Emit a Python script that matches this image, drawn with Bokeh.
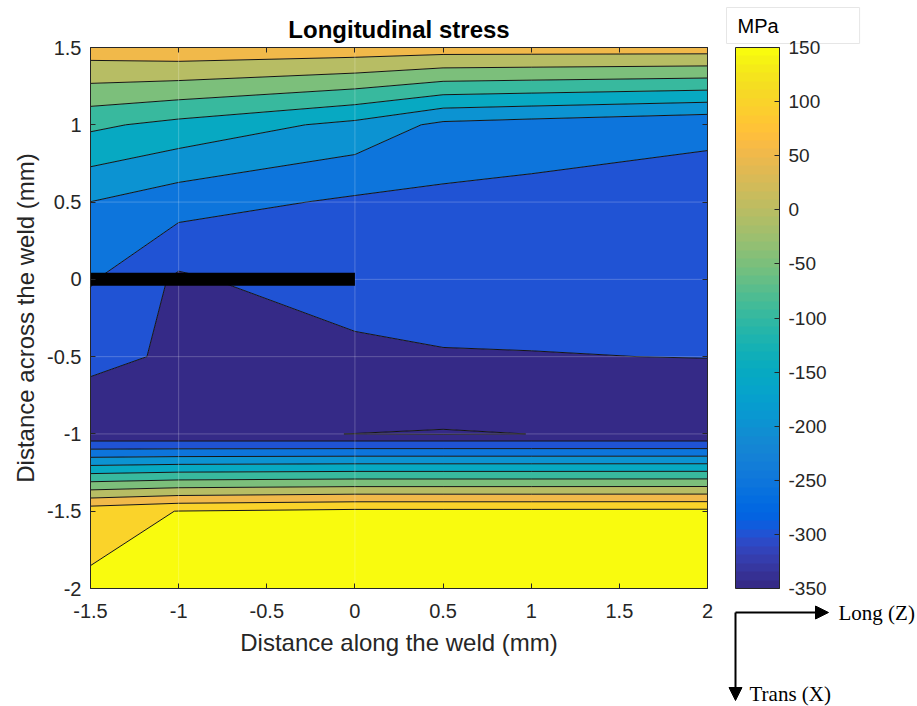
import math
import numpy as np
from bokeh.plotting import figure
from bokeh.models import (LinearAxis, FixedTicker, ColorBar, LinearColorMapper,
                          Label, Arrow, NormalHead, Range1d)
from bokeh.embed import file_html
from bokeh.resources import INLINE

# Measurement grid (mm) and longitudinal stress (MPa); rows run from y = 1.5 down to y = -2
x_nodes = [-1.5, -1.0, 0.0, 0.5, 1.0, 2.0]
y_nodes = [1.5, 1.0, 0.5, 0.0, -0.5, -1.0, -1.04, -1.5, -2.0]
stress = [
    [78.0, 86.0, 81.0, 76.0, 76.0, 76.0],
    [-90.0, -115.0, -163.7, -212.0, -222.3, -243.0],
    [-200.5, -229.0, -258.0, -261.7, -266.0, -264.0],
    [-245.6, -308.4, -266.4, -280.0, -281.7, -285.0],
    [-289.5, -305.9, -316.3, -302.7, -301.5, -299.0],
    [-330.0, -347.0, -350.2, -353.0, -349.8, -345.0],
    [-305.7, -306.0, -306.0, -306.0, -306.0, -306.0],
    [131.0, 151.0, 162.0, 162.0, 162.0, 163.0],
    [158.0, 190.0, 195.0, 195.0, 195.0, 195.0],
]
levels = [-400, -350, -300, -250, -200, -150, -100, -50, 0, 50, 100, 150, 250]
cbar_ticks = [-350, -300, -250, -200, -150, -100, -50, 0, 50, 100, 150]
cbar_tick_labels = ["-350", "-300", "-250", "-200", "-150", "-100", "-50", "0", "50", "100", "150"]
cbar_low, cbar_high = -350, 150

x_ticks = [-1.5, -1.0, -0.5, 0.0, 0.5, 1.0, 1.5, 2.0]
x_tick_labels = ["-1.5", "-1", "-0.5", "0", "0.5", "1", "1.5", "2"]
y_ticks = [-2.0, -1.5, -1.0, -0.5, 0.0, 0.5, 1.0, 1.5]
y_tick_labels = ["-2", "-1.5", "-1", "-0.5", "0", "0.5", "1", "1.5"]

# weld line position
weld_x = [-1.5, 0.0]
weld_y = [0.0, 0.0]

# parula colormap, 64 entries
parula = [
    (0.2081, 0.1663, 0.5292), (0.2116, 0.1898, 0.5777), (0.2123, 0.2138, 0.6270),
    (0.2081, 0.2386, 0.6771), (0.1959, 0.2645, 0.7279), (0.1707, 0.2919, 0.7792),
    (0.1253, 0.3242, 0.8303), (0.0591, 0.3598, 0.8683), (0.0117, 0.3875, 0.8820),
    (0.0060, 0.4086, 0.8828), (0.0165, 0.4266, 0.8786), (0.0329, 0.4430, 0.8720),
    (0.0498, 0.4586, 0.8641), (0.0629, 0.4737, 0.8554), (0.0723, 0.4887, 0.8467),
    (0.0779, 0.5040, 0.8384), (0.0793, 0.5200, 0.8312), (0.0749, 0.5375, 0.8263),
    (0.0641, 0.5570, 0.8240), (0.0488, 0.5772, 0.8228), (0.0343, 0.5966, 0.8199),
    (0.0265, 0.6137, 0.8135), (0.0239, 0.6287, 0.8038), (0.0231, 0.6418, 0.7913),
    (0.0228, 0.6535, 0.7768), (0.0267, 0.6642, 0.7607), (0.0384, 0.6743, 0.7436),
    (0.0590, 0.6838, 0.7254), (0.0843, 0.6928, 0.7062), (0.1133, 0.7015, 0.6859),
    (0.1453, 0.7098, 0.6646), (0.1801, 0.7177, 0.6424), (0.2178, 0.7250, 0.6193),
    (0.2586, 0.7317, 0.5954), (0.3022, 0.7376, 0.5712), (0.3482, 0.7424, 0.5473),
    (0.3953, 0.7459, 0.5244), (0.4420, 0.7481, 0.5033), (0.4871, 0.7491, 0.4840),
    (0.5300, 0.7491, 0.4661), (0.5709, 0.7485, 0.4494), (0.6099, 0.7473, 0.4337),
    (0.6473, 0.7456, 0.4188), (0.6834, 0.7435, 0.4044), (0.7184, 0.7411, 0.3905),
    (0.7525, 0.7384, 0.3768), (0.7858, 0.7356, 0.3633), (0.8185, 0.7327, 0.3498),
    (0.8507, 0.7299, 0.3360), (0.8824, 0.7274, 0.3217), (0.9139, 0.7258, 0.3063),
    (0.9450, 0.7261, 0.2886), (0.9739, 0.7314, 0.2666), (0.9938, 0.7455, 0.2403),
    (0.9990, 0.7653, 0.2164), (0.9955, 0.7861, 0.1967), (0.9880, 0.8066, 0.1794),
    (0.9789, 0.8271, 0.1633), (0.9697, 0.8481, 0.1475), (0.9626, 0.8705, 0.1309),
    (0.9589, 0.8949, 0.1132), (0.9598, 0.9218, 0.0948), (0.9661, 0.9514, 0.0755),
    (0.9763, 0.9831, 0.0538),
]
parula_hex = ["#%02x%02x%02x" % tuple(int(round(c * 255)) for c in rgb) for rgb in parula]


def level_color(v):
    frac = (min(max(v, cbar_low), cbar_high) - cbar_low) / (cbar_high - cbar_low)
    return parula_hex[min(len(parula_hex) - 1, int(np.floor(frac * len(parula_hex))))]


fill_colors = [level_color(lo) for lo in levels[:-1]]

FONT = "Liberation Sans"
INK = "#262626"

# Canvas layout (pixels): the plotting frame covers the whole canvas and the data
# window sits at AX_L..AX_R, AX_T..AX_B inside it.
W, H = 917, 706
AX_L, AX_R, AX_T, AX_B = 90, 707, 47, 588
CB_L, CB_R = 735, 779
x_min, x_max = x_nodes[0], x_nodes[-1]
y_min, y_max = y_nodes[-1], y_nodes[0]
kx = (AX_R - AX_L) / (x_max - x_min)
ky = (AX_B - AX_T) / (y_max - y_min)
x_range = (x_min - AX_L / kx, x_max + (W - AX_R) / kx)
y_range = (y_min - (H - AX_B) / ky, y_max + AX_T / ky)
kc = (AX_B - AX_T) / (cbar_high - cbar_low)
cbar_range = Range1d(cbar_low - (H - AX_B) / kc, cbar_high + AX_T / kc)


def sy(py):
    # screen units run upward from the bottom edge
    return H - py


p = figure(width=W, height=H, x_range=x_range, y_range=y_range,
           x_axis_type=None, y_axis_type=None, title=None,
           output_backend="svg", toolbar_location=None, min_border=0,
           outline_line_color=None, border_fill_color="white",
           background_fill_color="white")
p.extra_y_ranges = {"cbar": cbar_range}

# filled contour bands with black iso-lines
z = np.array(stress[::-1], dtype=float)
p.contour(x=np.array(x_nodes), y=np.array(y_nodes[::-1]), z=z, levels=levels,
          fill_color=fill_colors, line_color="#141414", line_width=1)

# faint lines along interior grid columns and rows
seam_cols = x_nodes[1:3]
seam_rows = y_nodes[2:6]
p.segment(x0=seam_cols, x1=seam_cols, y0=[y_min] * len(seam_cols), y1=[y_max] * len(seam_cols),
          line_color="white", line_alpha=0.22, line_width=1)
p.segment(x0=[x_min] * len(seam_rows), x1=[x_max] * len(seam_rows), y0=seam_rows, y1=seam_rows,
          line_color="white", line_alpha=0.22, line_width=1)

# weld
p.line(weld_x, weld_y, line_width=13, line_color="black", line_cap="butt")


def make_axis(loc, ticks, bounds, labels=None, font_size="20px", **kw):
    ax = LinearAxis(fixed_location=loc, ticker=FixedTicker(ticks=ticks), bounds=bounds, **kw)
    ax.major_tick_in = 5
    ax.major_tick_out = 0
    ax.minor_tick_line_color = None
    ax.axis_line_color = INK
    ax.major_tick_line_color = INK
    ax.major_label_text_font = FONT
    if labels is not None:
        ax.major_label_text_color = INK
        ax.major_label_text_font_size = font_size
        ax.major_label_overrides = {t: s for t, s in zip(ticks, labels)}
    else:
        ax.major_label_text_color = None
        ax.major_label_text_font_size = "1px"
        ax.major_label_standoff = 0
    return ax


bottom = make_axis(y_min, x_ticks, (x_min, x_max), x_tick_labels)
bottom.major_label_standoff = 15
left = make_axis(x_min, y_ticks, (y_min, y_max), y_tick_labels)
left.major_label_standoff = 9
p.add_layout(bottom, "below")
p.add_layout(left, "left")
p.add_layout(make_axis(y_max, x_ticks, (x_min, x_max)), "above")
p.add_layout(make_axis(x_max, y_ticks, (y_min, y_max)), "right")

# title and axis titles
p.add_layout(Label(x=398.5, y=sy(28.5), x_units="screen", y_units="screen",
                   text="Longitudinal stress", text_align="center", text_baseline="middle",
                   text_font=FONT, text_font_size="24px", text_font_style="bold",
                   text_color="black"))
p.add_layout(Label(x=398.5, y=sy(642), x_units="screen", y_units="screen",
                   text="Distance along the weld (mm)", text_align="center",
                   text_baseline="middle", text_font=FONT, text_font_size="24px",
                   text_color=INK))
p.add_layout(Label(x=25, y=sy(317.5), x_units="screen", y_units="screen",
                   text="Distance across the weld (mm)", angle=math.pi / 2,
                   text_align="center", text_baseline="middle", text_font=FONT,
                   text_font_size="24px", text_color=INK))

# colour bar: the gradient strip, with its scale drawn as an axis on the right edge
mapper = LinearColorMapper(palette=parula_hex, low=cbar_low, high=cbar_high)
cb = ColorBar(color_mapper=mapper, location=(CB_L, H - AX_B), width=CB_R - CB_L,
              height=AX_B - AX_T, padding=0, margin=0,
              ticker=FixedTicker(ticks=cbar_ticks),
              major_tick_line_color=None, minor_tick_line_color=None,
              major_label_text_color=None, major_label_text_font_size="1px",
              bar_line_color=INK, bar_line_width=1,
              background_fill_alpha=0, border_line_color=None)
p.add_layout(cb)

cbar_axis = make_axis(x_range[0] + CB_R / kx, cbar_ticks, (cbar_low, cbar_high),
                      cbar_tick_labels, font_size="19px", y_range_name="cbar")
cbar_axis.major_label_standoff = 9
cbar_axis.axis_line_color = None
cbar_axis.level = "overlay"
p.add_layout(cbar_axis, "right")

# unit box above the colour bar
p.add_layout(Label(x=726, y=sy(25), x_units="screen", y_units="screen", text="MPa",
                   text_baseline="middle", text_font=FONT, text_font_size="20px",
                   text_color="black", border_line_color="#e6e6e6",
                   background_fill_color="white",
                   padding=dict(left=11, right=81, top=7, bottom=7)))

# orientation arrows
for xe, ye in ((828, 612), (735, 700)):
    p.add_layout(Arrow(end=NormalHead(size=13, fill_color="black", line_color="black"),
                       x_start=735, y_start=sy(612), x_end=xe, y_end=sy(ye),
                       start_units="screen", end_units="screen",
                       line_width=2, line_color="black"))
p.add_layout(Label(x=838, y=sy(612), x_units="screen", y_units="screen",
                   text="Long (Z)", text_baseline="middle", text_font="Liberation Serif",
                   text_font_size="21px", text_color="black"))
p.add_layout(Label(x=749, y=sy(693), x_units="screen", y_units="screen",
                   text="Trans (X)", text_baseline="middle", text_font="Liberation Serif",
                   text_font_size="21px", text_color="black"))

open("out.html", "w").write(file_html(p, INLINE))
